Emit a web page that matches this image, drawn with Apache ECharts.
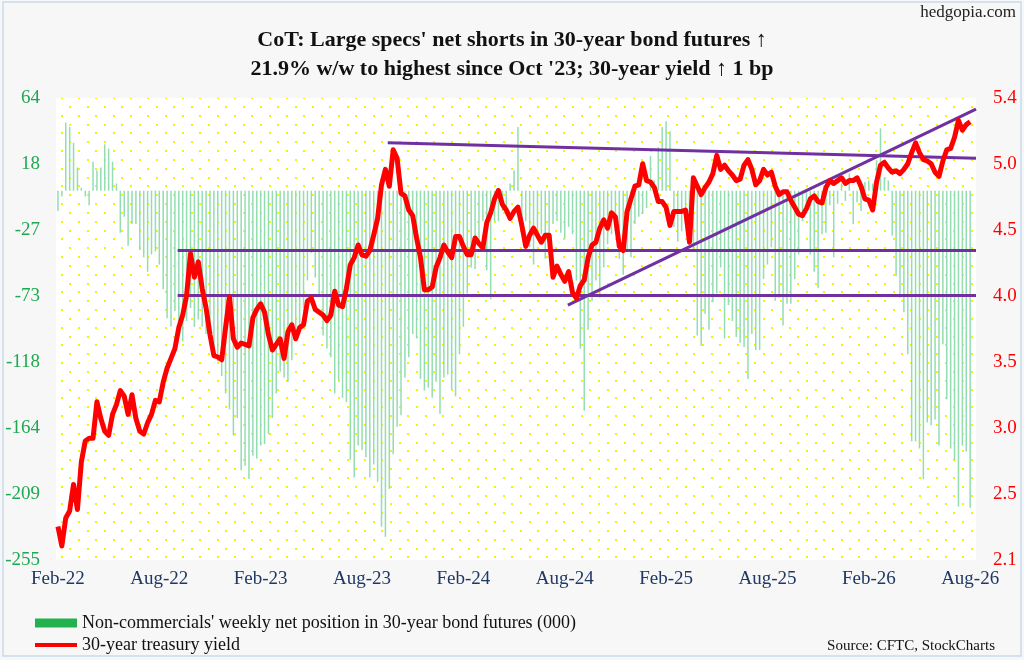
<!DOCTYPE html>
<html>
<head>
<meta charset="utf-8">
<script src="https://cdn.jsdelivr.net/npm/echarts@6/dist/echarts.min.js"></script>
<style>
  html, body { margin: 0; padding: 0; background: #f7f7f7; }
  #chart { width: 1024px; height: 660px; }
</style>
</head>
<body>
<div id="chart"></div>
<script>
// weekly CoT readings, Feb-22 .. Aug-26 (000 contracts)
var netPosition = [
  -14, -4, 47, 44, 33, 16, 2, -4, -10, 20,
  14, 16, 32, 29, 20, 5, -29, -18, -38, -23,
  -23, -41, -46, -56, -44, -42, -51, -68, -88, -94,
  -83, -92, -104, -90, -81, -94, -89, -94, -99, -105,
  -110, -118, -128, -140, -151, -169, -157, -193, -190, -199,
  -183, -185, -176, -175, -168, -157, -140, -125, -129, -132,
  -117, -100, -95, -81, -62, -43, -60, -72, -100, -109,
  -115, -140, -131, -143, -146, -186, -198, -176, -179, -184,
  -198, -189, -201, -232, -239, -206, -182, -163, -155, -129,
  -115, -99, -102, -130, -138, -136, -143, -132, -154, -129,
  -127, -137, -142, -113, -94, -71, -53, -54, -35, -21,
  -55, -75, -21, -21, -14, -17, 5, 14, 44, -25,
  -21, -39, -51, -28, -30, -47, -35, -23, -21, -29,
  -33, -25, -30, -62, -109, -152, -96, -76, -62, -74,
  -53, -37, -30, -28, -47, -58, -41, -46, -23, -18,
  -16, -12, 24, 7, 30, 44, 48, 41, -25, -35,
  -28, -23, -30, -41, -100, -107, -85, -96, -77, -71,
  -53, -102, -79, -90, -101, -105, -108, -130, -99, -110,
  -110, -61, -51, -39, -76, -74, -93, -78, -78, -61,
  -44, -21, -14, -44, -56, -67, -30, -29, -10, -46,
  -9, 5, -7, 12, -23, -8, -14, 6, 7, 5,
  21, 43, 9, 7, -31, -59, -74, -84, -113, -173,
  -173, -178, -199, -160, -162, -158, -176, -106, -144, -178,
  -186, -218, -176, -180, -219
];

// 30-year treasury yield (%)
var yield30 = [
  2.34, 2.20, 2.40, 2.45, 2.64, 2.46, 2.80, 2.95, 2.97, 2.97,
  3.23, 3.11, 3.02, 2.99, 3.14, 3.21, 3.31, 3.27, 3.14, 3.28,
  3.11, 3.02, 3.00, 3.08, 3.14, 3.24, 3.23, 3.37, 3.47, 3.54,
  3.61, 3.76, 3.85, 3.99, 4.29, 4.12, 4.23, 4.04, 3.90, 3.71,
  3.56, 3.55, 3.53, 3.76, 3.98, 3.68, 3.62, 3.65, 3.64, 3.63,
  3.83, 3.89, 3.93, 3.87, 3.71, 3.60, 3.64, 3.68, 3.54, 3.73,
  3.78, 3.68, 3.76, 3.78, 3.95, 3.97, 3.89, 3.87, 3.85, 3.81,
  3.85, 4.02, 3.92, 3.91, 4.04, 4.21, 4.26, 4.35, 4.28, 4.27,
  4.31, 4.42, 4.54, 4.78, 4.89, 4.77, 5.03, 4.97, 4.72, 4.70,
  4.60, 4.56, 4.40, 4.26, 4.03, 4.03, 4.05, 4.19, 4.26, 4.35,
  4.30, 4.26, 4.41, 4.41, 4.34, 4.28, 4.28, 4.40, 4.36, 4.33,
  4.51, 4.58, 4.68, 4.74, 4.64, 4.60, 4.54, 4.59, 4.62, 4.49,
  4.34, 4.42, 4.47, 4.42, 4.37, 4.42, 4.42, 4.12, 4.20, 4.14,
  4.09, 4.16, 4.01, 3.97, 4.06, 4.10, 4.26, 4.35, 4.37, 4.47,
  4.53, 4.47, 4.58, 4.55, 4.34, 4.31, 4.59, 4.68, 4.77, 4.78,
  4.93, 4.81, 4.80, 4.76, 4.66, 4.66, 4.62, 4.49, 4.59, 4.59,
  4.59, 4.60, 4.37, 4.83, 4.77, 4.71, 4.76, 4.80, 4.86, 4.99,
  4.89, 4.92, 4.88, 4.85, 4.81, 4.82, 4.92, 4.96, 4.89, 4.78,
  4.81, 4.89, 4.85, 4.87, 4.77, 4.71, 4.73, 4.73, 4.67, 4.62,
  4.57, 4.56, 4.61, 4.68, 4.70, 4.66, 4.65, 4.76, 4.81, 4.79,
  4.81, 4.83, 4.79, 4.81, 4.81, 4.83, 4.77, 4.68, 4.67, 4.60,
  4.80, 4.92, 4.94, 4.90, 4.87, 4.88, 4.86, 4.89, 4.93, 5.01,
  5.08, 5.01, 4.96, 4.95, 4.93, 4.87, 4.84, 4.95, 5.03, 5.04,
  5.12, 5.24, 5.17, 5.21, 5.23
];

// trend lines drawn on the yield scale: [week index, yield]
var supportLow = [[30.7, 3.99], [235.5, 3.99]];
var supportHigh = [[30.7, 4.31], [235.5, 4.31]];
var fallingTop = [[84.6, 5.08], [235.5, 4.97]];
var risingTrend = [[130.8, 3.92], [235.5, 5.32]];

var xTickLabels = ['Feb-22', 'Aug-22', 'Feb-23', 'Aug-23', 'Feb-24', 'Aug-24', 'Feb-25', 'Aug-25', 'Feb-26', 'Aug-26'];
var leftTickLabels = ['-255', '-209', '-164', '-118', '-73', '-27', '18', '64'];
var rightTickLabels = ['2.1', '2.5', '3.0', '3.5', '4.0', '4.5', '5.0', '5.4'];

var weekCount = 236;
var weeks = [];
var start = Date.UTC(2022, 1, 8);
for (var w = 0; w < weekCount; w++) {
    weeks.push(new Date(start + w * 7 * 864e5).toISOString().slice(0, 10));
}

var leftMin = -255, leftMax = 64, rightMin = 2.1, rightMax = 5.4;
function evenTicks(lo, hi, n) {
    var out = [];
    for (var k = 0; k < n; k++) out.push(lo + k * (hi - lo) / (n - 1));
    return out;
}
var leftTicks = evenTicks(leftMin, leftMax, leftTickLabels.length);
var rightTicks = evenTicks(rightMin, rightMax, rightTickLabels.length);
function nearest(ticks, v) {
    var best = 0;
    for (var k = 1; k < ticks.length; k++) {
        if (Math.abs(ticks[k] - v) < Math.abs(ticks[best] - v)) best = k;
    }
    return best;
}

function dotPattern() {
    var c = document.createElement('canvas');
    c.width = 52; c.height = 53;
    var g = c.getContext('2d');
    g.fillStyle = '#ffffff';
    g.fillRect(0, 0, 52, 53);
    g.fillStyle = '#f4f400';
    for (var r = 0; r < 6; r++) {
        for (var k = 0; k < 3; k++) {
            g.fillRect(Math.round(k * 17.33 + (r % 2 ? 8.67 : 0)), Math.round(r * 8.83), 2, 2);
        }
    }
    return c;
}

var serif = '"Liberation Serif", "Times New Roman", serif';
var barName = "Non-commercials' weekly net position in 30-year bond futures (000)";
var lineName = '30-year treasury yield';

function trendSeries(pts) {
    return {
        type: 'line', xAxisIndex: 1, yAxisIndex: 1, data: pts,
        symbol: 'none', silent: true, z: 3,
        lineStyle: { color: '#7030a0', width: 3 }
    };
}

var chart = echarts.init(document.getElementById('chart'));
chart.setOption({
    animation: false,
    backgroundColor: '#f7f7f7',
    title: [{
        text: "CoT: Large specs' net shorts in 30-year bond futures \u2191\n21.9% w/w to highest since Oct '23; 30-year yield \u2191 1 bp",
        left: 'center', top: 21,
        textStyle: { fontFamily: serif, fontSize: 22, fontWeight: 'bold', color: '#111', lineHeight: 29 }
    }, {
        text: 'hedgopia.com', right: 8, top: 4, padding: 0,
        textStyle: { fontFamily: serif, fontSize: 17, fontWeight: 'normal', color: '#222' }
    }, {
        text: 'Source: CFTC, StockCharts', right: 29, top: 639, padding: 0,
        textStyle: { fontFamily: serif, fontSize: 15, fontWeight: 'normal', color: '#111' }
    }],
    graphic: [{
        type: 'rect', shape: { x: 3, y: 2, width: 1018, height: 654 }, silent: true,
        style: { fill: 'none', stroke: '#c6dbf0', lineWidth: 1.5 }
    }],
    legend: {
        orient: 'vertical', left: 28, top: 609, itemGap: 4,
        itemWidth: 42, itemHeight: 9,
        textStyle: { fontFamily: serif, fontSize: 18, lineHeight: 18, color: '#111' },
        data: [
            { name: barName, icon: 'rect', itemStyle: { color: '#22b14c' } },
            { name: lineName, itemStyle: { opacity: 0 }, lineStyle: { width: 4, color: '#ff0000' } }
        ]
    },
    grid: {
        left: 56, right: 48, top: 98, bottom: 100,
        show: true, borderWidth: 0,
        backgroundColor: { image: dotPattern(), repeat: 'repeat' }
    },
    xAxis: [{
        type: 'category', data: weeks, boundaryGap: true,
        axisLine: { show: false }, axisTick: { show: false }, splitLine: { show: false },
        axisLabel: {
            interval: function (idx) { return idx % 26 === 0; },
            formatter: function (val, idx) { return xTickLabels[idx / 26]; },
            margin: 10, fontFamily: serif, fontSize: 19, color: '#1f3864'
        }
    }, {
        type: 'value', min: -0.5, max: weekCount - 0.5, show: false
    }],
    yAxis: [{
        type: 'value', position: 'left', min: leftMin, max: leftMax,
        axisLine: { show: false }, axisTick: { show: false }, splitLine: { show: false },
        axisLabel: {
            customValues: leftTicks,
            formatter: function (v) { return leftTickLabels[nearest(leftTicks, v)]; },
            margin: 16, fontFamily: serif, fontSize: 19, color: '#1fa851'
        }
    }, {
        type: 'value', position: 'right', min: rightMin, max: rightMax,
        axisLine: { show: false }, axisTick: { show: false }, splitLine: { show: false },
        axisLabel: {
            customValues: rightTicks,
            formatter: function (v) { return rightTickLabels[nearest(rightTicks, v)]; },
            margin: 17, fontFamily: serif, fontSize: 19, color: '#ff0000'
        }
    }],
    series: [{
        name: barName, type: 'bar', data: netPosition,
        xAxisIndex: 0, yAxisIndex: 0, barWidth: 1.5, z: 2,
        itemStyle: { color: '#93ddb1' }
    },
    trendSeries(supportLow),
    trendSeries(supportHigh),
    trendSeries(fallingTop),
    trendSeries(risingTrend),
    {
        name: lineName, type: 'line', data: yield30,
        xAxisIndex: 0, yAxisIndex: 1, symbol: 'none', z: 4,
        lineStyle: { color: '#ff0000', width: 5, join: 'round' },
        itemStyle: { color: '#ff0000' }
    }]
});
</script>
</body>
</html>
